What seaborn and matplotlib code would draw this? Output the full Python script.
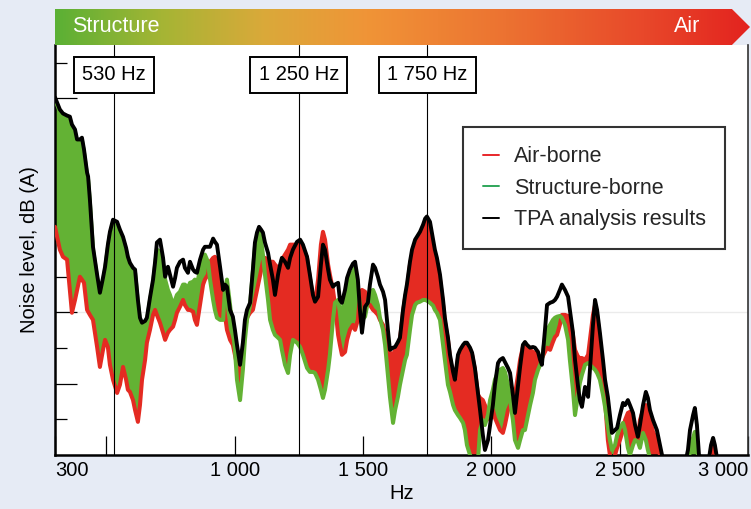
import numpy as np
import pandas as pd
import matplotlib
matplotlib.use("Agg")
import matplotlib.pyplot as plt
import seaborn as sns
from matplotlib.lines import Line2D
from matplotlib.patches import Polygon
from matplotlib.colors import LinearSegmentedColormap
import matplotlib.transforms as mtransforms

# ---------------- data ----------------
freq = [300, 319, 331, 347, 358, 366, 378, 386, 397, 405, 413, 425, 429, 436, 448, 464, 475, 487, 495, 506,
        514, 526, 542, 553, 565, 577, 584, 592, 604, 612, 623, 631, 639, 651, 658, 670, 682, 690, 697, 709,
        721, 729, 740, 748, 760, 768, 775, 787, 799, 806, 818, 826, 838, 845, 853, 865, 877, 884, 896,
        904, 916, 923, 931, 943, 955, 962, 970, 982, 993, 1001, 1009, 1021, 1032, 1040, 1048, 1060, 1071,
        1079, 1087, 1095, 1103, 1110, 1118, 1130, 1138, 1149, 1157, 1169, 1177, 1184, 1196, 1208, 1216,
        1227, 1243, 1255, 1266, 1282, 1293, 1305, 1313, 1325, 1336, 1344, 1352, 1364, 1371, 1383, 1391,
        1403, 1410, 1418, 1430, 1438, 1449, 1461, 1469, 1480, 1488, 1496, 1508, 1519, 1527, 1539, 1547,
        1558, 1566, 1578, 1586, 1597, 1605, 1617, 1625, 1636, 1644, 1656, 1664, 1671, 1683, 1691, 1703,
        1710, 1722, 1734, 1742, 1749, 1761, 1773, 1780, 1788, 1800, 1812, 1819, 1831, 1839, 1851, 1858,
        1870, 1878, 1890, 1897, 1905, 1917, 1925, 1936, 1948, 1956, 1967, 1975, 1987, 1995, 2006, 2014,
        2026, 2034, 2045, 2053, 2065, 2073, 2084, 2092, 2104, 2112, 2123, 2131, 2139, 2151, 2162, 2170,
        2182, 2190, 2197, 2209, 2217, 2229, 2240, 2248, 2256, 2267, 2275, 2287, 2299, 2306, 2318, 2326,
        2338, 2345, 2353, 2365, 2377, 2384, 2396, 2404, 2412, 2423, 2435, 2443, 2454, 2462, 2470, 2482,
        2490, 2501, 2513, 2521, 2532, 2540, 2552, 2560, 2571, 2579, 2591, 2602, 2610, 2618, 2630, 2645,
        2657, 2665, 2676, 2754, 2766, 2774, 2786, 2793, 2801, 2809, 2844, 2856, 2864, 2871, 2879, 2891, 3000]

tpa = [100.3, 96.9, 95.8, 95.2, 94.9, 92.7, 91.3, 88.5, 88.5, 89.0, 85.7, 79.2, 78.1, 71.6, 58.4, 50.6, 45.5, 49.7, 52.8, 59.0,
       62.6, 66.0, 65.4, 63.2, 61.2, 58.1, 55.6, 53.9, 52.5, 52.0, 43.5, 38.5, 37.1, 37.6, 38.5, 44.1, 49.2, 54.2, 59.6, 60.4,
       55.3, 50.0, 52.8, 50.6, 47.2, 49.7, 52.5, 54.2, 54.8, 52.5, 51.1, 54.2, 52.0, 51.4, 51.1, 54.8, 57.6, 58.4, 58.4,
       58.4, 60.7, 59.8, 59.0, 52.8, 46.3, 47.8, 47.2, 40.7, 38.8, 35.1, 30.9, 25.3, 31.5, 37.9, 40.7, 42.7, 52.0,
       59.6, 62.4, 64.0, 63.2, 62.4, 59.6, 56.7, 53.4, 49.2, 44.9, 50.6, 53.4, 55.3, 54.2, 52.5, 55.3,
       57.6, 59.8, 60.4, 59.0, 55.6, 50.6, 44.9, 43.0, 44.4, 53.4, 59.0, 57.6, 52.0, 49.2, 47.2, 47.8,
       48.3, 43.5, 42.7, 46.3, 49.7, 52.0, 53.7, 54.2, 49.2, 40.7, 34.3, 41.6, 42.7, 47.8, 53.4, 52.5,
       50.0, 47.8, 45.8, 43.5, 35.1, 29.5, 30.1, 30.3, 31.7, 32.9, 40.7, 44.9, 47.8, 54.2, 57.6, 60.4,
       61.2, 62.6, 64.6, 66.3, 66.9, 65.4, 60.4, 57.6, 55.3, 50.6, 43.5, 38.5, 32.9, 28.1, 23.3, 21.1,
       28.1, 29.5, 30.9, 31.5, 31.5, 30.1, 28.7, 24.4, 17.4, 12.6, 5.6, 1.4, 4.2, 8.4, 14.0, 19.7,
       25.8, 26.7, 27.2, 26.1, 24.4, 23.0, 16.9, 11.8, 19.7, 24.7, 30.9, 31.7, 30.9, 30.1, 30.3, 30.1,
       28.9, 26.7, 25.3, 35.1, 42.1, 42.7, 43.0, 43.5, 44.4, 46.3, 47.8, 46.3, 44.4, 40.7, 34.3, 26.7,
       19.1, 15.4, 13.5, 19.1, 16.3, 23.9, 36.5, 43.5, 40.7, 34.3, 26.7, 21.1, 16.3, 11.2, 6.2, 7.0,
       7.6, 11.2, 14.6, 14.0, 15.4, 14.0, 11.8, 8.4, 5.1, 8.4, 14.0, 17.7, 16.0, 12.6, 9.8, 7.0,
       2.8, 0.0, -2.8, -2.8, 1.4, 7.0, 11.2, 13.2, 8.4, 0.0, -2.8, 2.8, 4.8, 2.8, -0.8, -4.2, -4.2]

air = [64.0, 57.6, 55.6, 54.8, 46.3, 39.9, 43.5, 46.3, 50.0, 49.2, 48.3, 40.7, 40.2, 39.3, 37.9, 30.3, 24.7, 29.5, 32.3, 30.3,
       25.3, 21.1, 17.4, 19.7, 24.7, 21.1, 18.3, 17.7, 15.4, 12.6, 9.3, 14.0, 21.1, 26.7, 31.5, 35.1, 39.3, 40.7, 39.3, 37.1,
       34.3, 32.3, 34.3, 35.1, 36.0, 37.9, 39.9, 41.6, 43.5, 42.1, 40.7, 40.7, 40.2, 37.9, 36.5, 42.1, 47.8, 49.2, 50.6,
       54.2, 55.3, 55.6, 54.2, 50.6, 43.5, 39.3, 35.1, 32.3, 30.9, 28.1, 25.3, 24.4, 29.5, 35.1, 38.5, 39.9, 40.7,
       43.5, 46.3, 49.2, 52.0, 54.2, 55.3, 54.8, 54.2, 54.2, 53.4, 52.5, 52.5, 54.8, 56.2, 57.6, 59.0,
       59.0, 59.0, 59.6, 58.1, 55.3, 49.7, 44.4, 42.7, 49.2, 59.0, 62.6, 60.4, 53.4, 50.6, 46.3, 42.1,
       33.7, 30.9, 28.1, 28.9, 32.3, 35.1, 36.5, 35.1, 37.9, 44.9, 46.3, 45.8, 42.1, 42.1, 40.7, 40.2,
       39.3, 37.9, 36.5, 33.7, 30.9, 28.7, 28.1, 29.5, 30.9, 32.3, 40.2, 44.1, 46.3, 53.4, 56.2, 59.0,
       60.4, 61.8, 63.8, 65.4, 66.0, 63.8, 59.0, 56.2, 53.4, 49.2, 42.1, 37.4, 32.3, 27.2, 22.5, 20.5,
       27.2, 28.9, 30.3, 30.9, 30.9, 29.5, 28.1, 23.9, 16.9, 16.0, 15.4, 14.0, 12.1, 9.8, 12.6, 10.4,
       8.4, 7.0, 6.2, 8.4, 12.6, 14.0, 15.4, 16.9, 22.5, 26.7, 30.3, 30.9, 30.3, 29.5, 28.9, 28.7,
       28.1, 27.5, 27.2, 28.9, 30.1, 29.5, 31.7, 33.1, 33.7, 36.5, 39.3, 39.3, 39.0, 38.5, 33.7, 29.5,
       27.5, 27.2, 27.2, 26.7, 28.1, 32.3, 39.3, 42.1, 39.3, 32.3, 23.9, 15.4, 4.2, 0.0, -2.0, 0.0,
       2.0, 4.2, 7.0, 9.8, 11.8, 12.1, 10.4, 7.0, 4.2, 9.8, 12.6, 14.0, 12.6, 9.8, 6.5, 4.2,
       0.0, -2.8, -4.2, -4.2, -4.2, -2.8, -1.4, -2.0, -2.8, -4.2, -4.2, 1.4, 3.4, 1.4, -2.8, -4.2, -4.2]

structure = [99.7, 96.3, 95.2, 94.4, 94.1, 91.9, 90.4, 87.6, 87.6, 88.2, 84.8, 78.4, 77.2, 70.8, 57.6, 49.7, 44.7, 48.9, 52.0, 58.1,
             61.8, 65.2, 64.6, 62.4, 60.4, 57.3, 54.8, 53.1, 51.7, 51.1, 42.7, 37.6, 36.2, 36.8, 37.6, 43.3, 48.3, 53.4, 57.6, 57.0,
             53.4, 49.2, 46.3, 44.9, 42.1, 43.5, 44.9, 45.8, 47.8, 47.8, 46.9, 48.3, 48.6, 49.2, 47.8, 52.0, 55.3, 56.2, 54.2,
             49.2, 43.5, 40.7, 38.5, 37.9, 37.9, 46.3, 49.2, 42.1, 35.1, 29.5, 21.1, 15.4, 23.9, 32.3, 37.9, 42.1, 51.4,
             58.4, 61.0, 62.6, 60.4, 56.2, 50.6, 43.5, 37.9, 35.1, 33.7, 32.9, 32.3, 29.5, 25.3, 23.0, 28.1,
             32.3, 31.5, 30.3, 28.1, 24.4, 23.3, 23.3, 23.0, 21.1, 18.3, 16.0, 18.3, 23.9, 28.1, 37.9, 42.7,
             43.5, 40.7, 39.3, 44.9, 47.8, 49.7, 51.4, 52.5, 46.3, 42.1, 37.9, 38.8, 43.0, 45.5, 46.3, 44.9,
             42.1, 38.5, 35.1, 30.9, 22.5, 16.3, 9.0, 12.6, 16.3, 19.7, 23.9, 26.7, 28.1, 35.1, 39.3, 42.1,
             42.7, 43.0, 43.5, 43.5, 43.3, 42.7, 41.9, 40.7, 39.9, 37.9, 30.9, 26.7, 19.7, 17.7, 14.0, 12.6,
             11.2, 10.4, 9.0, 7.0, 2.8, 0.0, -1.4, -2.8, -1.4, 7.0, 9.8, 8.4, 11.2, 15.4, 18.3, 21.1,
             23.3, 23.9, 24.4, 23.3, 19.7, 15.4, 9.8, 4.2, 2.0, 4.2, 7.0, 7.0, 9.8, 14.0, 17.4, 21.1,
             23.9, 25.3, 26.7, 32.9, 35.1, 36.5, 37.9, 38.5, 38.8, 39.0, 38.5, 36.5, 32.3, 26.7, 18.3, 11.2,
             16.9, 20.2, 22.5, 25.3, 25.8, 25.3, 24.4, 23.9, 23.0, 21.1, 16.9, 13.5, 7.9, 4.2, 1.4, 2.8,
             5.6, 7.6, 9.0, 7.0, 2.0, 0.0, 2.8, 4.2, 3.7, 2.0, 6.2, 4.2, 1.4, -0.8, -2.8, -4.2,
             -4.2, -4.2, -4.2, -4.2, -2.8, 1.4, 4.8, 6.5, 2.8, -2.8, -4.2, -4.2, -4.2, -4.2, -4.2, -4.2, -4.2]

marker_freqs = [530, 1250, 1750]
marker_labels = ["530 Hz", "1 250 Hz", "1 750 Hz"]
xtick_values = [300, 1000, 1500, 2000, 2500, 3000]
xtick_labels = ["300", "1 000", "1 500", "2 000", "2 500", "3 000"]
series_labels = ["Air-borne", "Structure-borne", "TPA analysis results"]

df = pd.DataFrame({"freq": freq, "tpa": tpa, "air": air, "structure": structure})

# ---------------- style ----------------
sns.set_theme(style="white")
plt.rcParams["font.family"] = ["Liberation Sans", "DejaVu Sans"]

RED = "#e42b22"
GREEN = "#63b234"
BG = "#e6ebf5"

fig = plt.figure(figsize=(7.51, 5.09), dpi=100, facecolor=BG)
ax = fig.add_axes([55 / 751, (509 - 455) / 509, 693 / 751, 410 / 509])
ax.set_facecolor("white")

a = df["air"].to_numpy()
s = df["structure"].to_numpy()
f = df["freq"].to_numpy()

ax.axhline(40, color="#ebebeb", lw=1, zorder=0.5)

ax.fill_between(f, a, s, where=a >= s, interpolate=True, color=RED, lw=0, zorder=2)
ax.fill_between(f, a, s, where=s > a, interpolate=True, color=GREEN, lw=0, zorder=2)
sns.lineplot(data=df, x="freq", y="air", color=RED, lw=2.9, ax=ax, zorder=3, sort=False)
sns.lineplot(data=df, x="freq", y="structure", color=GREEN, lw=2.9, ax=ax, zorder=3, sort=False)

for mf in marker_freqs:
    ax.axvline(mf, color="black", lw=0.8, zorder=3.5)

sns.lineplot(data=df, x="freq", y="tpa", color="black", lw=2.8, ax=ax, zorder=4, sort=False)

trans = mtransforms.blended_transform_factory(ax.transData, ax.transAxes)
for mf, ml in zip(marker_freqs, marker_labels):
    ax.text(mf, 0.927, ml, transform=trans, ha="center", va="center", fontsize=14.5,
            color="black", zorder=6,
            bbox=dict(boxstyle="square,pad=0.42", fc="white", ec="black", lw=1.4))

ax.set_xlim(300, 3000)
ax.set_ylim(0, 115)

ax.set_xticks(xtick_values)
ax.set_xticklabels(xtick_labels)
ax.set_xticks([500], minor=True)
ax.set_yticks([20, 40, 60, 80, 100])
ax.set_yticks([10, 30, 50, 70, 90, 110], minor=True)
ax.set_yticklabels([])
ax.tick_params(axis="x", which="both", direction="in", length=14, width=0.9, color="black",
               labelsize=14.5, pad=4, bottom=True, top=False, labelcolor="black")
ax.tick_params(axis="y", which="major", direction="in", length=15.5, width=0.9, color="black", left=True)
ax.tick_params(axis="y", which="minor", direction="in", length=8.5, width=0.9, color="black", left=True)
labels = ax.get_xticklabels()
labels[0].set_ha("left")
labels[-1].set_ha("right")

ax.set_xlabel("Hz", fontsize=14.5, color="black", labelpad=3)
ax.set_ylabel("Noise level, dB (A)", fontsize=14.5, color="black", labelpad=8)

for side in ["left", "bottom"]:
    ax.spines[side].set_color("black")
    ax.spines[side].set_linewidth(1.8)
ax.spines["right"].set_color("#333333")
ax.spines["right"].set_linewidth(1.2)
ax.spines["top"].set_visible(False)

handles = [Line2D([0], [0], color="#e8262a", lw=1.4),
           Line2D([0], [0], color="#2fa65a", lw=1.4),
           Line2D([0], [0], color="black", lw=1.4)]
leg = ax.legend(handles, series_labels, loc="upper right", bbox_to_anchor=(0.967, 0.80),
                fontsize=15.5, frameon=True, fancybox=False, edgecolor="black",
                handlelength=0.75, handletextpad=0.7, labelspacing=0.48, borderpad=0.9,
                borderaxespad=0)
leg.get_frame().set_linewidth(1.5)
leg.set_zorder(7)

# ---------------- banner ----------------
bax = fig.add_axes([55 / 751, (509 - 45) / 509, 695 / 751, 36 / 509])
bax.set_xlim(0, 1)
bax.set_ylim(0, 1)
bax.axis("off")
cmap = LinearSegmentedColormap.from_list(
    "banner",
    [(0.0, "#5bb035"), (0.15, "#a4b534"), (0.3, "#daa93a"), (0.45, "#f09437"),
     (0.65, "#ec7231"), (0.85, "#e8482a"), (1.0, "#e3231f")])
grad = np.linspace(0, 1, 512).reshape(1, -1)
im = bax.imshow(grad, extent=[0, 1, 0, 1], aspect="auto", cmap=cmap, zorder=1)
tip = 0.026
poly = Polygon([(0, 0), (1 - tip, 0), (1, 0.5), (1 - tip, 1), (0, 1)], closed=True,
               fc="none", ec="none", transform=bax.transData)
bax.add_patch(poly)
im.set_clip_path(poly)
bax.text(0.0245, 0.5, "Structure", color="white", fontsize=15.5, ha="left", va="center", zorder=2)
bax.text(0.928, 0.5, "Air", color="white", fontsize=15.5, ha="right", va="center", zorder=2)

fig.savefig("out.png", dpi=100, facecolor=BG)
